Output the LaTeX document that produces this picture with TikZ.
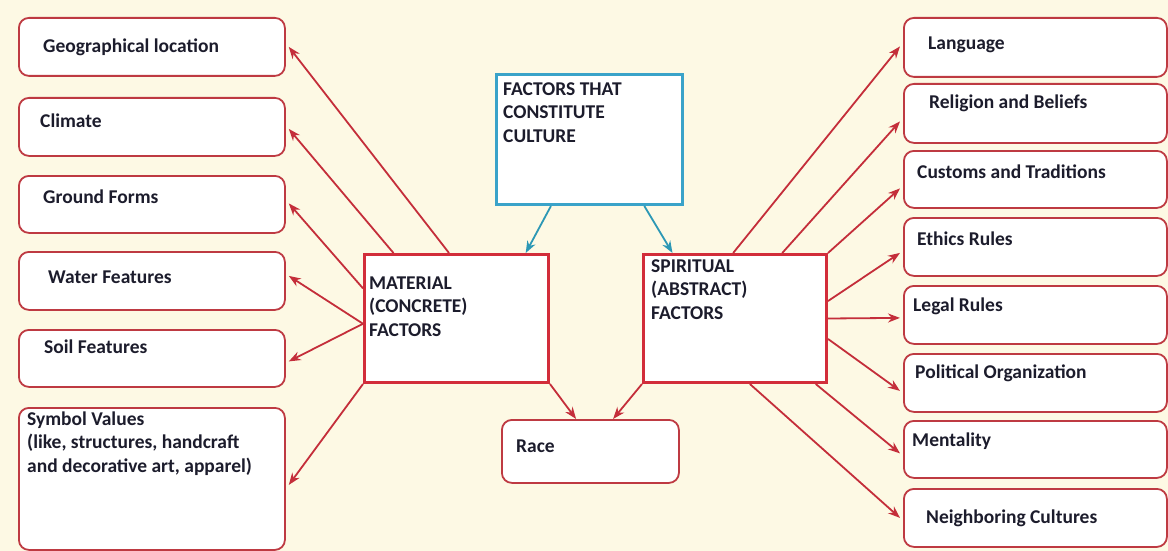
\documentclass[tikz,border=0pt]{standalone}
\usepackage{fontspec}
\setmainfont{Carlito}
\usetikzlibrary{arrows.meta,calc}
\definecolor{bg}{HTML}{FDF9E4}
\definecolor{boxred}{HTML}{BE3A42}
\definecolor{mainred}{HTML}{D22D3A}
\definecolor{arrred}{HTML}{C42E3A}
\definecolor{cblue}{HTML}{3AA3C9}
\definecolor{ablue}{HTML}{2C98B5}
\definecolor{txt}{HTML}{1C1C2C}
\tikzset{
 leaf/.style={draw=boxred, line width=1.8pt, rounded corners=10pt, fill=white, anchor=north west, inner sep=0pt},
 mainbox/.style={draw=mainred, line width=3pt, fill=white, anchor=north west, inner sep=0pt},
 topbox/.style={draw=cblue, line width=3pt, fill=white, anchor=north west, inner sep=0pt},
 lbl/.style={anchor=base west, font=\bfseries\fontsize{19.5}{23.2}\selectfont, text=txt, inner sep=0pt, align=left},
 ra/.style={draw=arrred, line width=1.8pt, -{Stealth[length=12pt,width=9pt]}},
 ba/.style={draw=ablue, line width=1.8pt, -{Stealth[length=12pt,width=9pt]}},
}
\begin{document}
\begin{tikzpicture}[x=1pt,y=-1pt]
\fill[bg] (0,0) rectangle (1168,551);
\useasboundingbox (0,0) rectangle (1168,551);
% left boxes
\node[leaf, minimum width=266pt, minimum height=58pt] (geo) at (18,17) {};
\node[leaf, minimum width=266pt, minimum height=58pt] (clim) at (18,97) {};
\node[leaf, minimum width=266pt, minimum height=57pt] (ground) at (18,175) {};
\node[leaf, minimum width=266pt, minimum height=58pt] (water) at (18,251) {};
\node[leaf, minimum width=266pt, minimum height=57pt] (soil) at (18,329) {};
\node[leaf, minimum width=266pt, minimum height=142pt] (symb) at (18,407) {};
% right boxes
\node[leaf, minimum width=263pt, minimum height=59pt] (lang) at (903,17) {};
\node[leaf, minimum width=263pt, minimum height=59pt] (rel) at (903,83) {};
\node[leaf, minimum width=263pt, minimum height=57pt] (cust) at (903,150) {};
\node[leaf, minimum width=263pt, minimum height=58pt] (eth) at (903,217) {};
\node[leaf, minimum width=263pt, minimum height=58pt] (legal) at (903,285) {};
\node[leaf, minimum width=263pt, minimum height=58pt] (pol) at (903,353) {};
\node[leaf, minimum width=263pt, minimum height=57pt] (ment) at (903,420) {};
\node[leaf, minimum width=263pt, minimum height=58pt] (neigh) at (903,488) {};
% center boxes
\node[topbox, minimum width=186pt, minimum height=130pt] (fac) at (495,73) {};
\node[mainbox, minimum width=184pt, minimum height=128pt] (mat) at (363,253) {};
\node[mainbox, minimum width=183pt, minimum height=128pt] (spir) at (642,253) {};
\node[leaf, minimum width=177pt, minimum height=63pt] (race) at (501,419) {};
% labels
\node[lbl] (tgeo) at (43,53) {Geographical location};
\node[lbl] (tclim) at (40,128) {Climate};
\node[lbl] (tground) at (43,203) {Ground Forms};
\node[lbl] (twater) at (48,283) {Water Features};
\node[lbl] (tsoil) at (44,353) {Soil Features};
\node[lbl] (tsymb) at (27,472) {Symbol Values\\(like, structures, handcraft\\and decorative art, apparel)};
\node[lbl] (tlang) at (928,50) {Language};
\node[lbl] (trel) at (929,108) {Religion and Beliefs};
\node[lbl] (tcust) at (917,178) {Customs and Traditions};
\node[lbl] (teth) at (917,245) {Ethics Rules};
\node[lbl] (tlegal) at (913,311) {Legal Rules};
\node[lbl] (tpol) at (915,378) {Political Organization};
\node[lbl] (tment) at (912,446) {Mentality};
\node[lbl] (tneigh) at (926,523) {Neighboring Cultures};
\node[lbl] (tfac) at (503,142) {FACTORS THAT\\CONSTITUTE\\CULTURE};
\node[lbl] (tmat) at (369,336) {MATERIAL\\(CONCRETE)\\FACTORS};
\node[lbl] (tspir) at (651,319) {SPIRITUAL\\(ABSTRACT)\\FACTORS};
\node[lbl] (trace) at (516,452) {Race};
% blue arrows
\draw[ba] ($(fac.south west)!0.296!(fac.south east)$) -- ($(mat.north west)!0.87!(mat.north east)$);
\draw[ba] ($(fac.south west)!0.79!(fac.south east)$) -- ($(spir.north west)!0.164!(spir.north east)$);
% material arrows
\draw[ra] ($(mat.north west)!0.46!(mat.north east)$) -- ([xshift=3pt]geo.east);
\draw[ra] ($(mat.north west)!0.163!(mat.north east)$) -- ([xshift=3pt,yshift=-2pt]clim.east);
\draw[ra] ($(mat.north west)!0.27!(mat.south west)$) -- ([xshift=3pt,yshift=1pt]ground.east);
\draw[ra] ($(mat.north west)!0.54!(mat.south west)$) -- ([xshift=3pt,yshift=5pt]water.east);
\draw[ra] ($(mat.north west)!0.54!(mat.south west)$) -- ([xshift=3pt,yshift=-3pt]soil.east);
\draw[ra] (mat.south west) -- ([xshift=3pt,yshift=-6pt]symb.east);
% spiritual arrows
\draw[ra] ($(spir.north west)!0.49!(spir.north east)$) -- ([xshift=-3pt,yshift=1pt]lang.west);
\draw[ra] ($(spir.north west)!0.754!(spir.north east)$) -- ([xshift=-3pt,yshift=-8pt]rel.west);
\draw[ra] (spir.north east) -- ([xshift=-3pt,yshift=-9pt]cust.west);
\draw[ra] ($(spir.north east)!0.367!(spir.south east)$) -- ([xshift=-3pt,yshift=-6pt]eth.west);
\draw[ra] (spir.east) -- ([xshift=-3pt,yshift=-3pt]legal.west);
\draw[ra] ($(spir.north east)!0.656!(spir.south east)$) -- ([xshift=-3pt,yshift=-8pt]pol.west);
\draw[ra] ($(spir.south west)!0.934!(spir.south east)$) -- ([xshift=-3pt,yshift=-4pt]ment.west);
\draw[ra] ($(spir.south west)!0.58!(spir.south east)$) -- ([xshift=-3pt]neigh.west);
% race arrows
\draw[ra] (mat.south east) -- ($(race.north west)!0.42!(race.north east)$);
\draw[ra] (spir.south west) -- ($(race.north west)!0.627!(race.north east)$);
\end{tikzpicture}
\end{document}
